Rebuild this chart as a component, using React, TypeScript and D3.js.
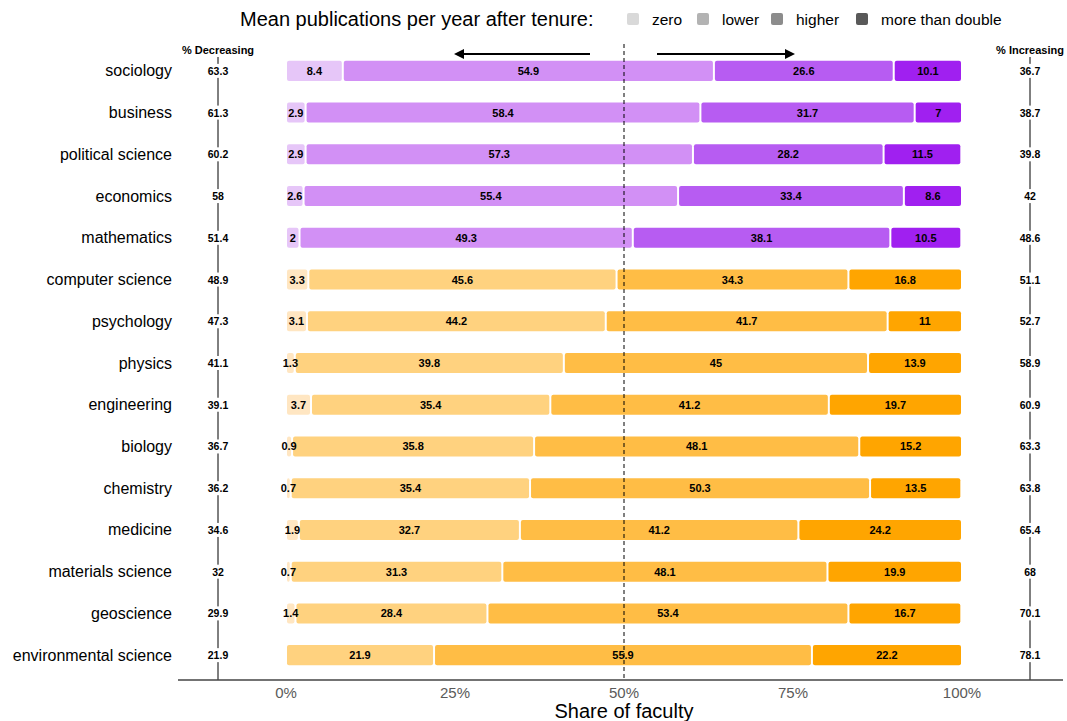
import React from "react";
import * as d3 from "d3";

const categories = [
  "sociology", "business", "political science", "economics", "mathematics",
  "computer science", "psychology", "physics", "engineering", "biology",
  "chemistry", "medicine", "materials science", "geoscience", "environmental science",
];
const zeroVals = [8.4, 2.9, 2.9, 2.6, 2, 3.3, 3.1, 1.3, 3.7, 0.9, 0.7, 1.9, 0.7, 1.4, 0];
const lowerVals = [54.9, 58.4, 57.3, 55.4, 49.3, 45.6, 44.2, 39.8, 35.4, 35.8, 35.4, 32.7, 31.3, 28.4, 21.9];
const higherVals = [26.6, 31.7, 28.2, 33.4, 38.1, 34.3, 41.7, 45, 41.2, 48.1, 50.3, 41.2, 48.1, 53.4, 55.9];
const doubleVals = [10.1, 7, 11.5, 8.6, 10.5, 16.8, 11, 13.9, 19.7, 15.2, 13.5, 24.2, 19.9, 16.7, 22.2];
const decreasing = [63.3, 61.3, 60.2, 58, 51.4, 48.9, 47.3, 41.1, 39.1, 36.7, 36.2, 34.6, 32, 29.9, 21.9];
const increasing = [36.7, 38.7, 39.8, 42, 48.6, 51.1, 52.7, 58.9, 60.9, 63.3, 63.8, 65.4, 68, 70.1, 78.1];
const legendLabels = ["zero", "lower", "higher", "more than double"];
const tickValues = [0, 25, 50, 75, 100];

const purple = ["#E6C6F8", "#D290F5", "#B75CF2", "#A020F0"];
const orange = ["#FFE6C2", "#FFD27F", "#FFBD45", "#FFA500"];
const legendGray = ["#D9D9D9", "#B3B3B3", "#8C8C8C", "#595959"];

const FONT = "'Liberation Sans', Arial, Helvetica, sans-serif";

export default function App() {
  const W = 1067, H = 721;
  const x = d3.scaleLinear().domain([0, 100]).range([286, 962]);
  const y = d3.scaleBand().domain(categories).range([50, 676]).paddingInner(0.52).paddingOuter(0.26);
  const bw = y.bandwidth();
  const leftX = 218, rightX = 1030, axisY = 680;

  const rows = categories.map((c, i) => {
    const vals = [zeroVals[i], lowerVals[i], higherVals[i], doubleVals[i]];
    let acc = 0;
    const segs = vals.map((v, k) => {
      const s = { x0: acc, x1: acc + v, v, k };
      acc += v;
      return s;
    });
    const pal = decreasing[i] > 50 ? purple : orange;
    return { c, i, segs, pal };
  });

  const legendX = [627, 697, 771, 856];

  return (
    <svg width={W} height={H} style={{ position: "absolute", left: 0, top: 0 }} fontFamily={FONT}>
      <rect width={W} height={H} fill="#fff" />
      {/* title & legend */}
      <text x={240} y={26} fontSize={20} fill="#000">Mean publications per year after tenure:</text>
      {legendLabels.map((l, k) => (
        <g key={l}>
          <rect x={legendX[k]} y={13} width={12} height={12} rx={2} fill={legendGray[k]} />
          <text x={legendX[k] + 25} y={25} fontSize={15.5} fill="#000">{l}</text>
        </g>
      ))}

      {/* side lines */}
      <line x1={leftX} x2={leftX} y1={57} y2={axisY} stroke="#000" strokeWidth={1} />
      <line x1={rightX} x2={rightX} y1={57} y2={axisY} stroke="#000" strokeWidth={1} />
      <text x={leftX} y={54} fontSize={11} fontWeight="bold" textAnchor="middle">% Decreasing</text>
      <text x={rightX} y={54} fontSize={11} fontWeight="bold" textAnchor="middle">% Increasing</text>

      {/* arrows */}
      <defs>
        <marker id="ah" viewBox="0 0 10 10" refX="8" refY="5" markerWidth="11" markerHeight="10"
          markerUnits="userSpaceOnUse" orient="auto-start-reverse">
          <path d="M0,0 L10,5 L0,10 z" fill="#000" />
        </marker>
      </defs>
      <line x1={590} x2={456} y1={54} y2={54} stroke="#000" strokeWidth={2} markerEnd="url(#ah)" />
      <line x1={657} x2={793} y1={54} y2={54} stroke="#000" strokeWidth={2} markerEnd="url(#ah)" />

      {/* bars */}
      {rows.map((r) => {
        const yc = (y(r.c) as number) + bw / 2;
        return (
          <g key={r.c}>
            <text x={172} y={yc + 5.5} fontSize={16} textAnchor="end" fill="#000">{r.c}</text>
            {r.segs.filter((s) => s.v > 0).map((s) => (
              <rect key={s.k} x={x(s.x0) + 1} y={y(r.c) as number} width={Math.max(0, x(s.x1) - x(s.x0) - 2)} height={bw}
                rx={2} fill={r.pal[s.k]} />
            ))}
            {r.segs.filter((s) => s.v > 0).map((s) => (
              <text key={"t" + s.k} x={(x(s.x0) + x(s.x1)) / 2} y={yc + 4} fontSize={11} fontWeight="bold"
                textAnchor="middle" fill="#000">{s.v}</text>
            ))}
            <rect x={leftX - 16} y={yc - 7} width={32} height={14} fill="#fff" />
            <text x={leftX} y={yc + 4} fontSize={10.5} fontWeight="bold" textAnchor="middle">{decreasing[r.i]}</text>
            <rect x={rightX - 16} y={yc - 7} width={32} height={14} fill="#fff" />
            <text x={rightX} y={yc + 4} fontSize={10.5} fontWeight="bold" textAnchor="middle">{increasing[r.i]}</text>
          </g>
        );
      })}

      {/* midline */}
      <line x1={x(50)} x2={x(50)} y1={44} y2={axisY} stroke="#000" strokeWidth={1} strokeDasharray="4,3" />

      {/* axis */}
      <line x1={178} x2={1063} y1={axisY} y2={axisY} stroke="#444" strokeWidth={1.5} />
      {tickValues.map((t) => (
        <text key={t} x={x(t)} y={698} fontSize={15} textAnchor="middle" fill="#5a5a5a">{t}%</text>
      ))}
      <text x={624} y={718} fontSize={20} textAnchor="middle" fill="#000">Share of faculty</text>
    </svg>
  );
}
